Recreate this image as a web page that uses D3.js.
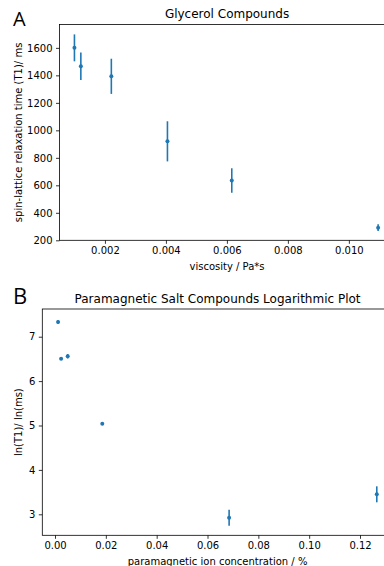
<!DOCTYPE html>
<html><head><meta charset="utf-8">
<script src="https://cdn.jsdelivr.net/npm/d3@7"></script>
<style>body{margin:0;background:#fff;overflow:hidden}svg{display:block}text{font-family:"DejaVu Sans",sans-serif;fill:#000}</style>
</head><body>
<script>
// Panel A data
const viscosity = [0.00100, 0.00121, 0.00221, 0.00405, 0.00616, 0.01096];
const t1 = [1600, 1466, 1393, 920, 635, 292];
const t1Err = [98, 100, 128, 146, 89, 24];
const xTicksA = [0.002, 0.004, 0.006, 0.008, 0.010];
const yTicksA = [200, 400, 600, 800, 1000, 1200, 1400, 1600];
// Panel B data
const concentration = [0.0012, 0.0024, 0.0050, 0.0186, 0.0685, 0.1266];
const lnT1 = [7.33, 6.505, 6.56, 5.04, 2.92, 3.45];
const lnT1Err = [0.04, 0.015, 0.05, 0.025, 0.18, 0.18];
const xTicksB = [0.00, 0.02, 0.04, 0.06, 0.08, 0.10, 0.12];
const yTicksB = [3, 4, 5, 6, 7];

const color = "#1f77b4";
const W = 384, H = 566;
const svg = d3.select("body").append("svg").attr("width", W).attr("height", H);

function panel(cfg) {
  const {left, right, top, bottom, xDomain, yDomain, xs, ys, errs, xTicks, yTicks, xFmt, yFmt, title, xLabel, yLabel, letter, letterY, letterSize} = cfg;
  const x = d3.scaleLinear().domain(xDomain).range([left, right]);
  const y = d3.scaleLinear().domain(yDomain).range([bottom, top]);
  const g = svg.append("g");
  const xa = g.append("g").attr("transform", `translate(0,${bottom})`)
    .call(d3.axisBottom(x).tickValues(xTicks).tickFormat(xFmt).tickSize(3.5).tickPadding(3.5));
  const ya = g.append("g").attr("transform", `translate(${left},0)`)
    .call(d3.axisLeft(y).tickValues(yTicks).tickFormat(yFmt).tickSize(3.5).tickPadding(3.5));
  [xa, ya].forEach(a => {
    a.select(".domain").remove();
    a.selectAll("line").attr("stroke", "#000").attr("stroke-width", 0.8);
    a.selectAll("text").attr("font-size", 10).attr("font-family", "DejaVu Sans").attr("fill", "#000");
  });
  g.append("rect").attr("x", left).attr("y", top).attr("width", right - left).attr("height", bottom - top)
    .attr("fill", "none").attr("stroke", "#000").attr("stroke-width", 0.8);
  const pts = xs.map((v, i) => ({x: v, y: ys[i], e: errs[i]}));
  g.selectAll(".eb").data(pts).enter().append("line")
    .attr("x1", d => x(d.x)).attr("x2", d => x(d.x))
    .attr("y1", d => y(d.y - d.e)).attr("y2", d => y(d.y + d.e))
    .attr("stroke", color).attr("stroke-width", 1.6);
  g.selectAll(".pt").data(pts).enter().append("circle")
    .attr("cx", d => x(d.x)).attr("cy", d => y(d.y)).attr("r", 2).attr("fill", color);
  const cx = (left + right) / 2;
  g.append("text").attr("x", cx).attr("y", top - 6.5).attr("text-anchor", "middle").attr("font-size", 12).text(title);
  g.append("text").attr("x", cx).attr("y", bottom + 30).attr("text-anchor", "middle").attr("font-size", 10).text(xLabel);
  g.append("text").attr("transform", `translate(21.5,${(top + bottom) / 2}) rotate(-90)`)
    .attr("text-anchor", "middle").attr("font-size", 10).text(yLabel);
  g.append("text").attr("x", 13).attr("y", letterY).attr("font-size", letterSize)
    .style("font-family", "'Open Sans', sans-serif").text(letter);
}

panel({
  left: 59.5, right: 394.6, top: 24.5, bottom: 240.3,
  xDomain: [0.00051, 0.0115], yDomain: [200, 1770],
  xs: viscosity, ys: t1, errs: t1Err,
  xTicks: xTicksA, yTicks: yTicksA,
  xFmt: d3.format(".3f"), yFmt: d3.format("d"),
  title: "Glycerol Compounds", xLabel: "viscosity / Pa*s",
  yLabel: "spin-lattice relaxation time (T1)/ ms", letter: "A", letterY: 26, letterSize: 20
});

panel({
  left: 42.3, right: 392.8, top: 309, bottom: 535.3,
  xDomain: [-0.005, 0.1329], yDomain: [2.527, 7.624],
  xs: concentration, ys: lnT1, errs: lnT1Err,
  xTicks: xTicksB, yTicks: yTicksB,
  xFmt: d3.format(".2f"), yFmt: d3.format("d"),
  title: "Paramagnetic Salt Compounds Logarithmic Plot", xLabel: "paramagnetic ion concentration / %",
  yLabel: "ln(T1)/ ln(ms)", letter: "B", letterY: 304, letterSize: 22
});
</script>
</body></html>
